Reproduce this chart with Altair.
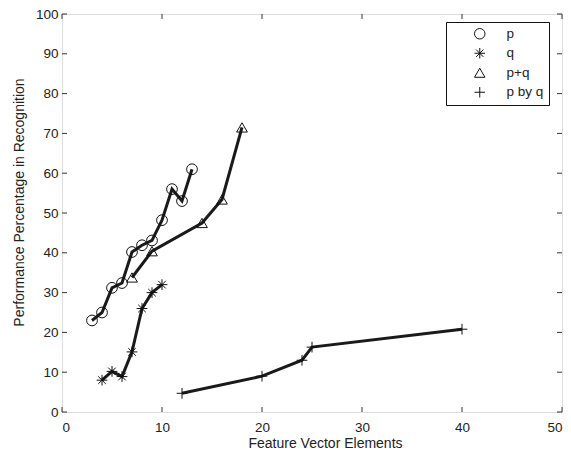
import altair as alt
import pandas as pd

series_names = ["p", "q", "p+q", "p by q"]

p_x = [3, 4, 5, 6, 7, 8, 9, 10, 11, 12, 13]
p_y = [23, 25, 31.2, 32.4, 40.2, 41.9, 43.1, 48.2, 56, 53, 61]

q_x = [4, 5, 6, 7, 8, 9, 10]
q_y = [8, 10.2, 8.9, 15.1, 26, 30, 32]

pq_x = [7, 9, 14, 16, 18]
pq_y = [33.8, 40.4, 47.5, 53.4, 71.5]

pbq_x = [12, 20, 24, 25, 40]
pbq_y = [4.7, 9, 13, 16.3, 20.8]

tick_values_x = [0, 10, 20, 30, 40, 50]
tick_values_y = [0, 10, 20, 30, 40, 50, 60, 70, 80, 90, 100]

rows = []
for name, xs, ys in [("p", p_x, p_y), ("q", q_x, q_y), ("p+q", pq_x, pq_y), ("p by q", pbq_x, pbq_y)]:
    for i, (a, b) in enumerate(zip(xs, ys)):
        rows.append({"series": name, "x": a, "y": b, "order": i})
df = pd.DataFrame(rows)
xt = pd.DataFrame({"x": tick_values_x})
yt = pd.DataFrame({"y": tick_values_y})

W, H = 500, 398
TL = 5  # inward tick length
FONT = "Liberation Sans"
TXT = "#222222"

xscale = alt.Scale(domain=[0, 50], nice=False, zero=False)
yscale = alt.Scale(domain=[0, 100], nice=False, zero=False)

main_x_axis = alt.Axis(values=tick_values_x, title="Feature Vector Elements", grid=False, domain=False,
                       ticks=False, labelPadding=8, labelFontSize=13.5, titleFontSize=14,
                       labelFont=FONT, titleFont=FONT, labelColor=TXT, titleColor=TXT,
                       titleFontWeight="normal", titlePadding=3, titleX=263)
main_y_axis = alt.Axis(values=tick_values_y, title="Performance Percentage in Recognition", grid=False,
                       domain=False, ticks=False, labelPadding=4, labelFontSize=13.5, titleFontSize=14,
                       labelFont=FONT, titleFont=FONT, labelColor=TXT, titleColor=TXT,
                       titleFontWeight="normal", titlePadding=9, titleY=188)

base = alt.Chart(df)

lines = base.mark_line(color="#1a1a1a", strokeWidth=3).encode(
    x=alt.X("x:Q", scale=xscale, axis=main_x_axis),
    y=alt.Y("y:Q", scale=yscale, axis=main_y_axis),
    detail="series:N",
    order="order:Q",
)

asterisk = "M-1,0L1,0M0,-1L0,1M-0.7,-0.7L0.7,0.7M-0.7,0.7L0.7,-0.7"
plus = "M-1,0L1,0M0,-1L0,1"

points = base.mark_point(filled=False, strokeWidth=1, opacity=1).encode(
    x=alt.X("x:Q", scale=xscale, axis=None),
    y=alt.Y("y:Q", scale=yscale, axis=None),
    shape=alt.Shape("series:N",
                    scale=alt.Scale(domain=series_names, range=["circle", asterisk, "triangle-up", plus]),
                    sort=series_names,
                    legend=alt.Legend(title=None, orient="none", legendX=384, legendY=8,
                                      padding=5, strokeColor="#111111", fillColor="white",
                                      symbolStrokeColor="#111111", symbolFillColor="transparent",
                                      symbolStrokeWidth=1, symbolSize=110, symbolOffset=22,
                                      labelOffset=20, labelFontSize=13.5, labelFont=FONT,
                                      labelColor=TXT, rowPadding=4.5)),
    color=alt.value("#111111"),
    size=alt.value(115),
)

tick_style = dict(color="#333333", strokeWidth=1)
tick_bottom = alt.Chart(xt).mark_rule(**tick_style).encode(
    x=alt.X("x:Q", scale=xscale, axis=None), y=alt.value(H), y2=alt.value(H - TL))
tick_top = alt.Chart(xt).mark_rule(**tick_style).encode(
    x=alt.X("x:Q", scale=xscale, axis=None), y=alt.value(0), y2=alt.value(TL))
tick_left = alt.Chart(yt).mark_rule(**tick_style).encode(
    y=alt.Y("y:Q", scale=yscale, axis=None), x=alt.value(0), x2=alt.value(TL))
tick_right = alt.Chart(yt).mark_rule(**tick_style).encode(
    y=alt.Y("y:Q", scale=yscale, axis=None), x=alt.value(W), x2=alt.value(W - TL))

chart = alt.layer(lines, points, tick_bottom, tick_top, tick_left, tick_right).resolve_axis(
    x="independent", y="independent"
).properties(
    width=W, height=H,
    autosize=alt.AutoSizeParams(type="none"),
    padding={"left": 54, "top": 6, "right": 1, "bottom": 38},
).configure_view(
    stroke="#222222", strokeWidth=1.3
).configure(background="white")

chart.save("out.html", embed_options={"renderer": "svg", "actions": False})
